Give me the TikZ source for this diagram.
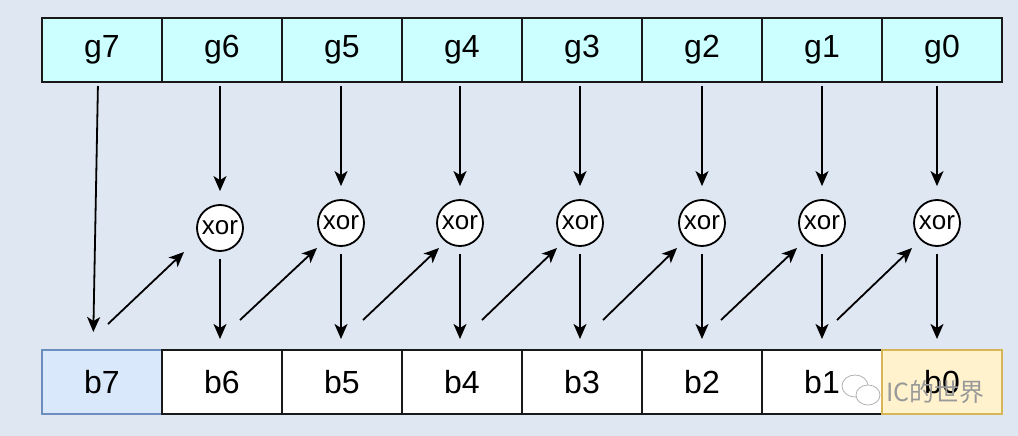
\documentclass[tikz,border=0pt]{standalone}
\usepackage{fontspec}
\setmainfont{Liberation Sans}
\newfontfamily\cjk{Noto Sans CJK SC}
\usetikzlibrary{positioning, arrows.meta, calc}

\definecolor{bgblue}{HTML}{DFE7F2}
\definecolor{gfill}{HTML}{CCFFFF}
\definecolor{bsevfill}{HTML}{DAE8FC}
\definecolor{bsevline}{HTML}{6C8EBF}
\definecolor{bzerofill}{HTML}{FFF2CC}
\definecolor{bzeroline}{HTML}{D6B656}

\begin{document}
\begin{tikzpicture}[
		x=1pt, y=-1pt,
		>={Stealth[length=15pt, width=13pt, inset=4pt]},
		cell/.style={draw=black!90, line width=1.8pt, minimum width=120pt, minimum height=64pt, inner sep=0pt, outer sep=0pt, font=\fontsize{32}{36}\selectfont},
		gcell/.style={cell, fill=gfill},
		bcell/.style={cell, fill=white},
		xorgate/.style={draw, circle, fill=white, minimum size=46pt, inner sep=0pt, line width=1.8pt, font=\fontsize{26}{30}\selectfont},
		arrow/.style={->, line width=1.8pt}
		]
		
		% Fondo
		\fill[bgblue] (0,0) rectangle (1018,436);
		
		% Gray code
		\node[gcell] (g7) at (102,50) {g7};
		\foreach \i [evaluate=\i as \j using int(\i+1)] in {6,5,...,0}
		\node[gcell, right=0pt of g\j] (g\i) {g\i};
		
		% Binario
		\node[bcell, fill=bsevfill, draw=bsevline] (b7) at (102,382) {b7};
		\foreach \i [evaluate=\i as \j using int(\i+1)] in {6,5,...,1}
		\node[bcell, right=0pt of b\j] (b\i) {b\i};
		\node[bcell, fill=bzerofill, draw=bzeroline, right=0pt of b1] (b0) {b0};
		
		% XOR
		\foreach \i/\xx/\yy in {6/220/228, 5/341/223, 4/460/223, 3/580/223, 2/702/223, 1/822/223, 0/937/223}
		\node[xorgate] (x\i) at (\xx,\yy) {xor};
		
		% Flechas verticales
		\draw[arrow, shorten <=4pt, shorten >=18pt] ([xshift=-4pt]g7.south) -- ([xshift=-9pt]b7.north);
		\foreach \i in {6,5,...,0} {
			\draw[arrow, shorten <=4pt, shorten >=13pt] (x\i |- g\i.south) -- (x\i.north);
			\draw[arrow, shorten <=7pt, shorten >=11pt] (x\i.south) -- (x\i |- b\i.north);
		}
		
		% Flechas diagonales
		\foreach \i/\sx/\ex/\ey in {6/108/184/252, 5/240/317/248, 4/363/439/248, 3/482/557/248, 2/603/677/248, 1/721/797/248, 0/837/912/248} {
			\coordinate (s\i) at (\sx,{\ey+72});
			\coordinate (e\i) at (\ex,\ey);
			\draw[arrow] (s\i) -- (e\i);
		}
		
		% Marca de agua
		\draw[black!30, fill=white, line width=0.8pt] (855,386) ellipse (13pt and 11pt);
		\draw[black!30, fill=white, line width=0.8pt] (868,395) ellipse (12pt and 10pt);
		\node[text=black!40, font=\cjk\fontsize{25}{28}\selectfont, anchor=west, inner sep=0pt] (wm) at (886,392) {IC的世界};
		
	\end{tikzpicture}
\end{document}
